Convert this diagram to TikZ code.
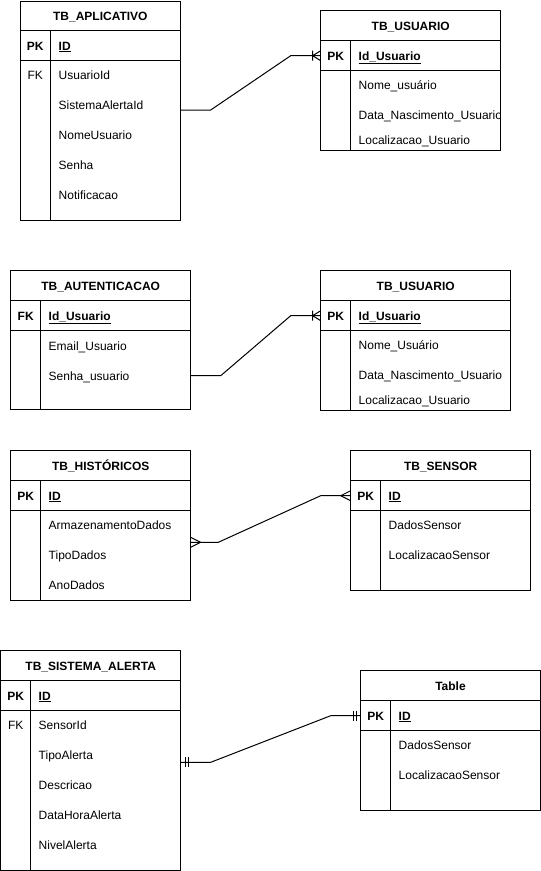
\documentclass[tikz,border=0pt]{standalone}
\usepackage{fontspec}
\setmainfont{Liberation Sans}
\usetikzlibrary{calc}
\newcommand{\ertable}[9]{%
  \node[tbl, minimum width={#3-#2}, minimum height={#7-#4}, anchor=north west] (#1) at (#2,#4) {};
  \draw (#2,#5) -- (#3,#5) (#2,#6) -- (#3,#6) (#8,#5) -- (#8,#7);
  \node[ttl] (#1t) at ({(#2+#3)/2},{(#4+#5)/2}) {#9};
}
\begin{document}
\begin{tikzpicture}[x=1pt,y=-1pt,line width=1pt,
  every node/.style={inner sep=0pt,outer sep=0pt,text height=8.6pt,text depth=0pt,font=\fontsize{12}{14}\selectfont},
  tbl/.style={draw,rectangle,text height=0pt},
  ttl/.style={font=\fontsize{12}{14}\selectfont\bfseries},
  keylab/.style={font=\fontsize{12}{14}\selectfont\bfseries},
  fklab/.style={},
  fld/.style={anchor=west},
  pkfld/.style={anchor=west,font=\fontsize{12}{14}\selectfont\bfseries},
  onemany/.pic={\draw (-8,-5)--(-8,5) (-8,0)--(0,-5) (-8,0)--(0,5);},
  many/.pic={\draw (-10,0)--(0,-5) (-10,0)--(0,5);},
  mandone/.pic={\draw (-4.5,-5)--(-4.5,5) (-7.5,-5)--(-7.5,5);}
]
\useasboundingbox (0,0) rectangle (541,871);

% TB_APLICATIVO
\ertable{app}{20}{180.7}{1}{30.7}{60.7}{220}{50.7}{TB\_APLICATIVO}
\node[keylab] (appPK) at (35.3,45.7) {PK};
\node[pkfld] (appId) at (58.7,45.7) {\underline{ID}};
\node[fklab] (appFK) at (35.3,75) {FK};
\node[fld] (appU) at (58.7,75) {UsuarioId};
\node[fld] (appS) at (58.7,105) {SistemaAlertaId};
\node[fld] (appN) at (58.7,135) {NomeUsuario};
\node[fld] (appSe) at (58.7,165) {Senha};
\node[fld] (appNo) at (58.7,195) {Notificacao};

% TB_USUARIO 1
\ertable{uA}{320.7}{500.7}{10.7}{40.7}{70.7}{150.7}{350.7}{TB\_USUARIO}
\node[keylab] (uAPK) at (335.7,55.7) {PK};
\node[pkfld] (uAId) at (358.7,55.7) {\underline{Id\_Usuario}};
\begin{scope}
\clip (320.7,70.7) rectangle (500.2,150.7);
\node[fld] (uAN) at (358.7,85) {Nome\_usuário};
\node[fld] (uAD) at (358.7,115) {Data\_Nascimento\_Usuario};
\node[fld] (uAL) at (358.7,140) {Localizacao\_Usuario};
\end{scope}

% TB_AUTENTICACAO
\ertable{au}{10.7}{190.7}{270.7}{300.7}{330.7}{409.7}{40.7}{TB\_AUTENTICACAO}
\node[keylab] (auFK) at (25.7,315.7) {FK};
\node[pkfld] (auId) at (48.7,315.7) {\underline{Id\_Usuario}};
\node[fld] (auE) at (48.7,345.7) {Email\_Usuario};
\node[fld] (auS) at (48.7,375.7) {Senha\_usuario};

% TB_USUARIO 2
\ertable{uB}{320.7}{510.7}{270.7}{300.7}{330.7}{410.7}{350.7}{TB\_USUARIO}
\node[keylab] (uBPK) at (335.7,315.7) {PK};
\node[pkfld] (uBId) at (358.7,315.7) {\underline{Id\_Usuario}};
\node[fld] (uBN) at (358.7,345) {Nome\_Usuário};
\node[fld] (uBD) at (358.7,375) {Data\_Nascimento\_Usuario};
\node[fld] (uBL) at (358.7,400) {Localizacao\_Usuario};

% TB_HISTORICOS
\ertable{hi}{10.7}{190.7}{450.7}{480.7}{510.7}{600.7}{40.7}{TB\_HISTÓRICOS}
\node[keylab] (hiPK) at (25.7,495.7) {PK};
\node[pkfld] (hiId) at (48.7,495.7) {\underline{ID}};
\node[fld] (hiA) at (48.7,525) {ArmazenamentoDados};
\node[fld] (hiT) at (48.7,555) {TipoDados};
\node[fld] (hiAn) at (48.7,585) {AnoDados};

% TB_SENSOR
\ertable{se}{350.7}{530.7}{450.7}{480.7}{510.7}{590.7}{380.7}{TB\_SENSOR}
\node[keylab] (sePK) at (365.7,495.7) {PK};
\node[pkfld] (seId) at (388.7,495.7) {\underline{ID}};
\node[fld] (seD) at (388.7,525) {DadosSensor};
\node[fld] (seL) at (388.7,555) {LocalizacaoSensor};

% TB_SISTEMA_ALERTA
\ertable{al}{0.7}{180.7}{650.7}{680.7}{710.7}{870.3}{30.7}{TB\_SISTEMA\_ALERTA}
\node[keylab] (alPK) at (15.7,695.7) {PK};
\node[pkfld] (alId) at (38.7,695.7) {\underline{ID}};
\node[fklab] (alFK) at (15.7,725) {FK};
\node[fld] (alS) at (38.7,725) {SensorId};
\node[fld] (alT) at (38.7,755) {TipoAlerta};
\node[fld] (alD) at (38.7,785) {Descricao};
\node[fld] (alDH) at (38.7,815) {DataHoraAlerta};
\node[fld] (alN) at (38.7,845) {NivelAlerta};

% Table
\ertable{tb}{360.7}{540.3}{670.7}{700.7}{730.7}{810.7}{390.7}{Table}
\node[keylab] (tbPK) at (375.7,715.7) {PK};
\node[pkfld] (tbId) at (398.7,715.7) {\underline{ID}};
\node[fld] (tbD) at (398.7,745) {DadosSensor};
\node[fld] (tbL) at (398.7,775) {LocalizacaoSensor};

% connectors
\draw (app.east |- 0,110) -- ++(30,0) -- ($(uA.west |- uAPK)+(-30,0)$) -- (uA.west |- uAPK);
\pic at (uA.west |- uAPK) {onemany};

\draw (au.east |- auS) -- ++(30,0) -- ($(uB.west |- uBPK)+(-30,0)$) -- (uB.west |- uBPK);
\pic at (uB.west |- uBPK) {onemany};

\draw (hi.east |- 0,542.3) -- ++(27.6,0) -- ($(se.west |- sePK)+(-30,0)$) -- (se.west |- sePK);
\pic[xscale=-1] at (hi.east |- 0,542.3) {many};
\pic at (se.west |- sePK) {many};

\draw (al.east |- 0,762.3) -- ++(30,0) -- ($(tb.west |- tbPK)+(-30,0)$) -- (tb.west |- tbPK);
\pic[xscale=-1] at (al.east |- 0,762.3) {mandone};
\pic at (tb.west |- tbPK) {mandone};
\end{tikzpicture}
\end{document}
